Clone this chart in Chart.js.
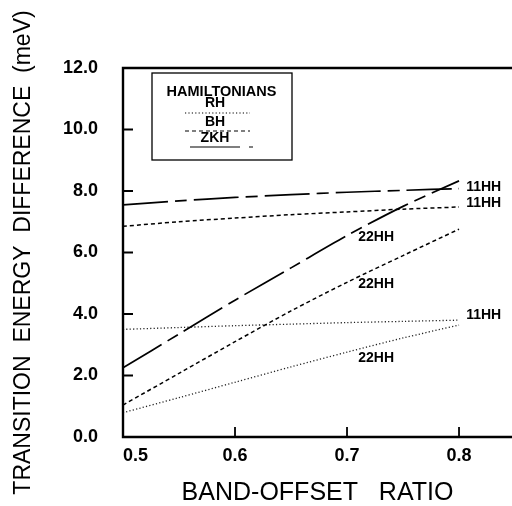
<!DOCTYPE html>
<html><head><meta charset="utf-8">
<script src="https://cdn.jsdelivr.net/npm/chart.js@4/dist/chart.umd.min.js"></script>
<style>html,body{margin:0;padding:0;background:#fff;overflow:hidden}</style>
</head><body>
<canvas id="c" width="512" height="506"></canvas>
<script>
// ---- data ----
const bandOffsetRatio = [0.5, 0.55, 0.6, 0.65, 0.7, 0.75, 0.8];
const zkh11HH = [7.55, 7.68, 7.79, 7.88, 7.96, 8.02, 8.08];
const zkh22HH = [2.25, 3.35, 4.45, 5.50, 6.55, 7.50, 8.33];
const bh11HH  = [6.85, 7.00, 7.12, 7.23, 7.32, 7.41, 7.48];
const bh22HH  = [1.04, 2.07, 3.10, 4.10, 5.03, 5.90, 6.76];
const rh11HH  = [3.50, 3.56, 3.62, 3.67, 3.72, 3.76, 3.80];
const rh22HH  = [0.79, 1.28, 1.78, 2.28, 2.76, 3.22, 3.64];
const xTicks = [0.5, 0.6, 0.7, 0.8];
const xTickLabels = ['0.5', '0.6', '0.7', '0.8'];
const yTicks = [0, 2, 4, 6, 8, 10, 12];
const yTickLabels = ['0.0', '2.0', '4.0', '6.0', '8.0', '10.0', '12.0'];
const legendTitle = 'HAMILTONIANS';
const legendNames = ['RH', 'BH', 'ZKH'];
const curveLabelText = ['11HH', '11HH', '11HH', '22HH', '22HH', '22HH'];
const curveLabelX = [0.822, 0.822, 0.822, 0.726, 0.726, 0.726];
const curveLabelY = [8.13, 7.61, 3.97, 6.50, 4.98, 2.57];

const X_MAX = 0.8473;
const FONT = '"Liberation Sans", Arial, Helvetica, sans-serif';
const DASH = { ZKH: [45, 7, 12, 7], BH: [4, 3], RH: [1.2, 2.2] };

function mk(label, vals, dash, width, color) {
  return {
    label, data: bandOffsetRatio.map((x, i) => ({ x, y: vals[i] })),
    borderColor: color, borderWidth: width, borderDash: dash,
    pointRadius: 0, tension: 0.3, fill: false
  };
}

const framePlugin = {
  id: 'frame',
  afterDatasetsDraw(chart) {
    const { ctx, chartArea: a, scales: { x, y } } = chart;
    ctx.save();
    ctx.strokeStyle = '#000';
    ctx.setLineDash([]);
    ctx.lineWidth = 2.4;
    ctx.beginPath();
    ctx.moveTo(a.right + 3, a.top);
    ctx.lineTo(a.left, a.top);
    ctx.lineTo(a.left, a.bottom);
    ctx.lineTo(a.right + 3, a.bottom);
    ctx.stroke();
    ctx.lineWidth = 1.8;
    ctx.beginPath();
    yTicks.forEach(v => {
      if (v > y.min && v < y.max) {
        const py = y.getPixelForValue(v);
        ctx.moveTo(a.left, py); ctx.lineTo(a.left + 10, py);
      }
    });
    xTicks.forEach(v => {
      if (v > x.min && v < x.max) {
        const px = x.getPixelForValue(v);
        ctx.moveTo(px, a.bottom); ctx.lineTo(px, a.bottom - 10);
      }
    });
    ctx.stroke();

    // curve labels
    ctx.fillStyle = '#000';
    ctx.font = 'bold 14px ' + FONT;
    ctx.textAlign = 'center';
    ctx.textBaseline = 'middle';
    curveLabelText.forEach((t, i) => {
      ctx.fillText(t, x.getPixelForValue(curveLabelX[i]), y.getPixelForValue(curveLabelY[i]));
    });

    // legend box
    const L = a.left + 29, T = a.top + 5, W = 140, H = 87;
    ctx.lineWidth = 1.3;
    ctx.strokeRect(L, T, W, H);
    ctx.font = 'bold 14.5px ' + FONT;
    ctx.fillText(legendTitle, L + 69.5, T + 19);
    ctx.font = 'bold 14px ' + FONT;
    const cx = L + 63;
    ctx.fillText(legendNames[0], cx, T + 30);
    ctx.fillText(legendNames[1], cx, T + 49);
    ctx.fillText(legendNames[2], cx, T + 65);
    ctx.lineWidth = 1.2;
    ctx.setLineDash(DASH.RH);
    ctx.beginPath(); ctx.moveTo(L + 33, T + 40); ctx.lineTo(L + 98, T + 40); ctx.stroke();
    ctx.setLineDash(DASH.BH);
    ctx.beginPath(); ctx.moveTo(L + 33, T + 58); ctx.lineTo(L + 98, T + 58); ctx.stroke();
    ctx.setLineDash([]);
    ctx.beginPath(); ctx.moveTo(L + 38, T + 74); ctx.lineTo(L + 88, T + 74);
    ctx.moveTo(L + 97, T + 74); ctx.lineTo(L + 101, T + 74); ctx.stroke();
    ctx.restore();
  }
};

new Chart(document.getElementById('c'), {
  type: 'line',
  data: {
    datasets: [
      mk('ZKH 11HH', zkh11HH, DASH.ZKH, 1.7, '#000'),
      mk('ZKH 22HH', zkh22HH, DASH.ZKH, 1.7, '#000'),
      mk('BH 11HH', bh11HH, DASH.BH, 1.5, '#000'),
      mk('BH 22HH', bh22HH, DASH.BH, 1.5, '#000'),
      mk('RH 11HH', rh11HH, DASH.RH, 1.3, '#222'),
      mk('RH 22HH', rh22HH, DASH.RH, 1.3, '#222')
    ]
  },
  options: {
    responsive: false,
    animation: false,
    layout: { autoPadding: false, padding: { top: 68, right: 0, left: 0, bottom: 0 } },
    plugins: { legend: { display: false }, tooltip: { enabled: false } },
    scales: {
      x: {
        type: 'linear', min: 0.5, max: X_MAX,
        grid: { display: true, drawOnChartArea: false, drawTicks: true, tickLength: 8, color: 'rgba(0,0,0,0)' },
        border: { display: false },
        afterFit(s) { s.height = 69; },
        afterBuildTicks(s) { s.ticks = xTicks.map(v => ({ value: v })).concat([{ value: X_MAX }]); },
        ticks: {
          align: 'inner', padding: 0, color: '#000', maxRotation: 0, autoSkip: false,
          font: { family: FONT, size: 18, weight: 'bold' },
          callback: (v, i) => (i < xTickLabels.length ? xTickLabels[i] : '')
        },
        title: {
          display: true, text: 'BAND-OFFSET   RATIO', color: '#000',
          font: { family: FONT, size: 25, lineHeight: 1 }, padding: { top: 0, bottom: 0 }
        }
      },
      y: {
        type: 'linear', min: 0, max: 12,
        grid: { display: false }, border: { display: false },
        afterFit(s) { s.width = 123; },
        afterBuildTicks(s) { s.ticks = yTicks.map(v => ({ value: v })); },
        ticks: {
          padding: 17, color: '#000',
          font: { family: FONT, size: 18, weight: 'bold' },
          callback: (v, i) => yTickLabels[i]
        },
        title: {
          display: true, text: 'TRANSITION  ENERGY  DIFFERENCE  (meV)', color: '#000',
          font: { family: FONT, size: 23, lineHeight: 1.2 }, padding: { top: 10, bottom: 0 }
        }
      }
    }
  },
  plugins: [framePlugin]
});
</script>
</body></html>
